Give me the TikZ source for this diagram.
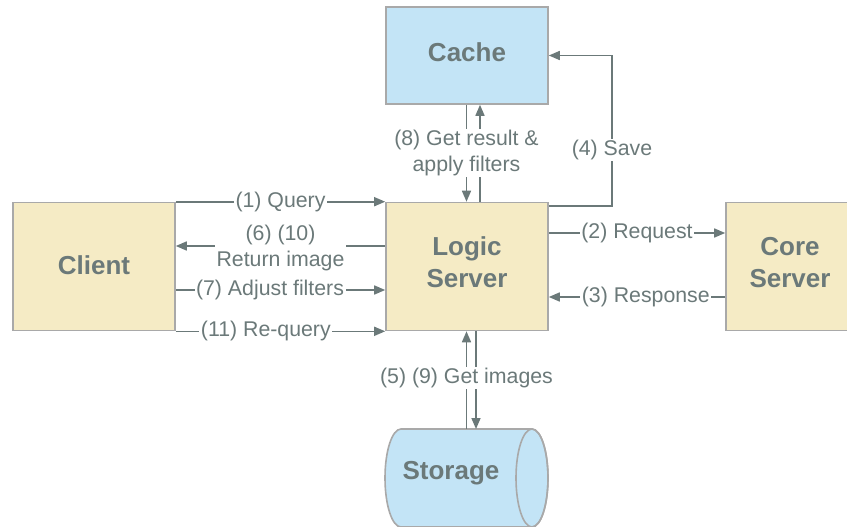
\documentclass[tikz,border=0pt]{standalone}
\usepackage{fontspec}
\setmainfont{Liberation Sans}
\usetikzlibrary{arrows.meta}
\definecolor{ink}{HTML}{6B7979}
\definecolor{boxline}{HTML}{A9A9A9}
\definecolor{yellowfill}{HTML}{F5EBC5}
\definecolor{bluefill}{HTML}{C3E4F6}
\tikzset{
  box/.style={draw=boxline, line width=1.6pt, inner sep=0pt},
  boxtext/.style={text=ink, align=center, inner sep=0pt,
    font=\fontsize{26}{32}\selectfont\bfseries},
  ybox/.style={box, fill=yellowfill},
  bbox/.style={box, fill=bluefill},
  arr/.style={draw=ink, line width=1.6pt, -{Triangle[length=11pt,width=9pt]}},
  lbl/.style={fill=white, text=ink, inner sep=1.5pt, align=center,
    font=\fontsize{21.3}{26}\selectfont}
}
\begin{document}
\begin{tikzpicture}[x=1pt,y=-1pt]
\useasboundingbox (0,0) rectangle (847,527);
\fill[white] (0,0) rectangle (847,527);
% boxes
\node[bbox, minimum width=162pt, minimum height=97pt,
  label={[boxtext,yshift=3pt]center:Cache}] (cache) at (467,55.5) {};
\node[ybox, minimum width=162pt, minimum height=128pt,
  label={[boxtext,yshift=4pt]center:Logic\\Server}] (logic) at (467,266.5) {};
\node[ybox, minimum width=162pt, minimum height=128pt,
  label={[boxtext,yshift=1pt]center:Client}] (client) at (94,266.5) {};
\node[ybox, minimum width=128pt, minimum height=128pt,
  label={[boxtext,yshift=4pt]center:Core\\Server}] (core) at (790,266.5) {};
% storage cylinder
\draw[draw=boxline, line width=1.6pt, fill=bluefill]
  (401,429) -- (532,429) arc[start angle=-90, end angle=90, x radius=16, y radius=49]
  -- (401,527) arc[start angle=90, end angle=270, x radius=16, y radius=49] -- cycle;
\draw[draw=boxline, line width=1.6pt] (532,478) ellipse [x radius=16, y radius=49];
\node[boxtext] (storage) at (451,473) {Storage};
\coordinate (sttop) at (466,429);
% y levels
\coordinate (yret) at (0,246);
\coordinate (yadj) at (0,290);
\coordinate (yreq) at (0,233);
\coordinate (yresp) at (0,297);
\coordinate (ysave) at (0,206);
\coordinate (sv) at (612,55.5);
\coordinate (xa) at (466.5,0);
\coordinate (xb) at (480,0);
\coordinate (xc) at (476,0);
% client <-> logic
\draw[arr] (client.north east) -- (client.north east -| logic.west)
  node[lbl, pos=0.5] {(1) Query};
\draw[arr] (logic.west |- yret) -- (client.east |- yret)
  node[lbl, pos=0.5, yshift=-2pt] {(6) (10)\\Return image};
\draw[arr] (client.east |- yadj) -- (logic.west |- yadj)
  node[lbl, pos=0.45] {(7) Adjust filters};
\draw[arr] (client.south east) -- (client.south east -| logic.west)
  node[lbl, pos=0.43] {(11) Re-query};
% logic <-> core
\draw[arr] (logic.east |- yreq) -- (core.west |- yreq)
  node[lbl, pos=0.5] {(2) Request};
\draw[arr] (core.west |- yresp) -- (logic.east |- yresp)
  node[lbl, pos=0.45] {(3) Response};
% save
\draw[arr] (logic.east |- ysave) -| (sv) -- (cache.east);
\node[lbl] (savelbl) at (612,150) {(4) Save};
% cache <-> logic
\draw[arr] (cache.south -| xa) -- (logic.north -| xa);
\draw[arr] (logic.north -| xb) -- (cache.south -| xb);
\node[lbl] (getlbl) at (466.5,153) {(8) Get result \&\\apply filters};
% logic <-> storage
\draw[arr] (sttop -| xa) -- (logic.south -| xa);
\draw[arr] (logic.south -| xc) -- (sttop -| xc);
\node[lbl] (imglbl) at (466.5,378) {(5) (9) Get images};
\end{tikzpicture}
\end{document}
